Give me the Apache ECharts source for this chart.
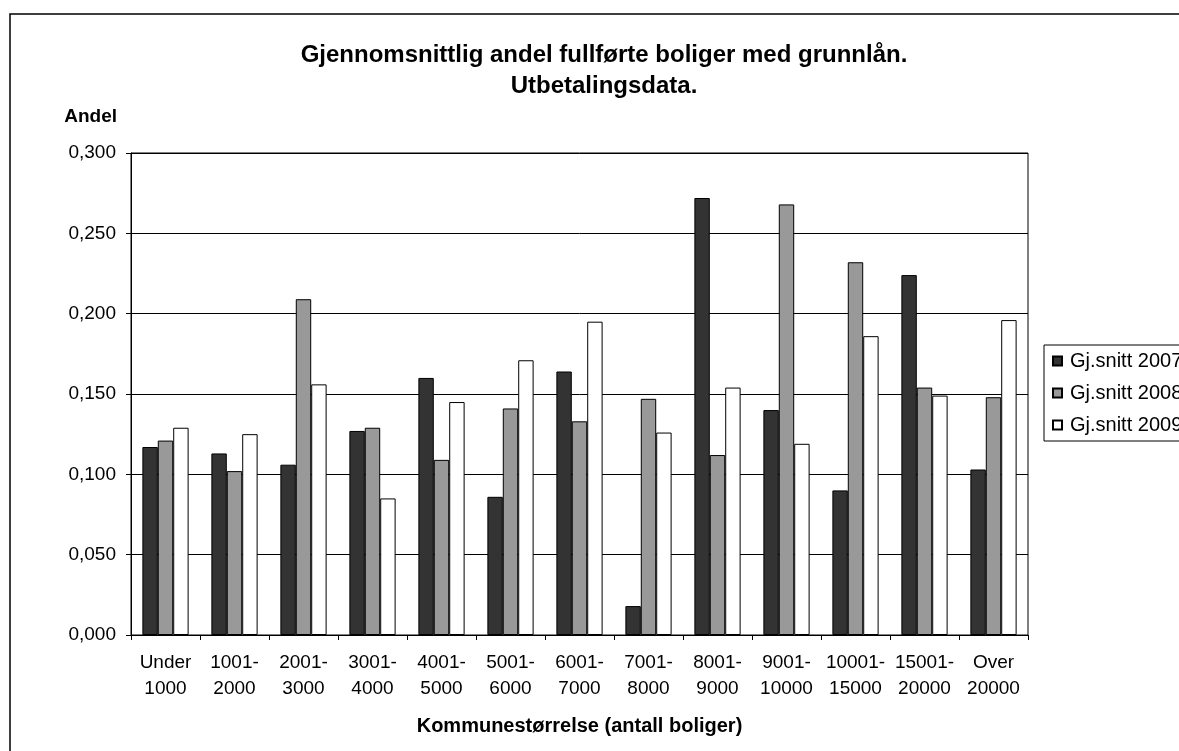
<!DOCTYPE html>
<html>
<head>
<meta charset="utf-8">
<script src="https://cdn.jsdelivr.net/npm/echarts@6/dist/echarts.min.js"></script>
<style>
  html, body { margin: 0; padding: 0; background: #fff; }
  #chart { width: 1179px; height: 751px; }
</style>
</head>
<body>
<div id="chart"></div>
<script>
var categories = ['Under\n1000', '1001-\n2000', '2001-\n3000', '3001-\n4000', '4001-\n5000', '5001-\n6000',
    '6001-\n7000', '7001-\n8000', '8001-\n9000', '9001-\n10000', '10001-\n15000', '15001-\n20000', 'Over\n20000'];
var snitt2007 = [0.117, 0.113, 0.106, 0.127, 0.160, 0.086, 0.164, 0.018, 0.272, 0.140, 0.090, 0.224, 0.103];
var snitt2008 = [0.121, 0.102, 0.209, 0.129, 0.109, 0.141, 0.133, 0.147, 0.112, 0.268, 0.232, 0.154, 0.148];
var snitt2009 = [0.129, 0.125, 0.156, 0.085, 0.145, 0.171, 0.195, 0.126, 0.154, 0.119, 0.186, 0.149, 0.196];
var yTickLabels = ['0,000', '0,050', '0,100', '0,150', '0,200', '0,250', '0,300'];

var font = 'Liberation Sans, Arial, sans-serif';
var myChart = echarts.init(document.getElementById('chart'));

function barSeries(name, data, color) {
    return {
        name: name,
        type: 'bar',
        data: data,
        barGap: '0%',
        barCategoryGap: '33%',
        itemStyle: { color: color, borderColor: '#000', borderWidth: 1 }
    };
}

var option = {
    animation: false,
    backgroundColor: '#fff',
    textStyle: { fontFamily: font },
    title: {
        text: 'Gjennomsnittlig andel fullførte boliger med grunnlån.\nUtbetalingsdata.',
        left: 599,
        top: 35,
        textAlign: 'center',
        textStyle: { fontFamily: font, fontSize: 24, fontWeight: 'bold', color: '#000', lineHeight: 31 }
    },
    legend: {
        orient: 'vertical',
        left: 1044,
        top: 345,
        padding: [6, 40, 6, 8],
        itemWidth: 9,
        itemHeight: 9,
        itemGap: 12,
        icon: 'rect',
        borderColor: '#000',
        borderWidth: 1,
        textStyle: { fontFamily: font, fontSize: 20, color: '#000', padding: [0, 0, 0, 3] },
        data: ['Gj.snitt 2007', 'Gj.snitt 2008', 'Gj.snitt 2009']
    },
    graphic: [{
        type: 'rect',
        shape: { x: 10, y: 14, width: 1400, height: 900 },
        style: { fill: null, stroke: '#000', lineWidth: 1.5 },
        silent: true
    }],
    grid: {
        left: 131,
        top: 153,
        width: 897,
        height: 482,
        show: true,
        borderColor: '#000',
        borderWidth: 1,
        backgroundColor: '#fff'
    },
    xAxis: {
        type: 'category',
        data: categories,
        name: 'Kommunestørrelse (antall boliger)',
        nameLocation: 'middle',
        nameGap: 81,
        nameTextStyle: { fontFamily: font, fontSize: 20, fontWeight: 'bold', color: '#000' },
        axisLine: { lineStyle: { color: '#000', width: 1 } },
        axisTick: { show: true, alignWithLabel: false, length: 5, lineStyle: { color: '#000' } },
        axisLabel: { color: '#000', fontSize: 19, lineHeight: 26, margin: 15, interval: 0, fontFamily: font }
    },
    yAxis: {
        type: 'value',
        min: 0,
        max: 0.3,
        interval: 0.05,
        name: 'Andel',
        nameLocation: 'end',
        nameGap: 27,
        nameTextStyle: { fontFamily: font, fontSize: 19, fontWeight: 'bold', color: '#000', align: 'right', padding: [0, 14, 0, 0] },
        axisLine: { show: true, lineStyle: { color: '#000', width: 1 } },
        axisTick: { show: true, length: 5, lineStyle: { color: '#000' } },
        splitLine: { show: true, lineStyle: { color: '#000', width: 1 } },
        axisLabel: {
            color: '#000',
            fontSize: 19,
            margin: 15,
            fontFamily: font,
            formatter: function (v) { return yTickLabels[Math.round(v / 0.05)]; }
        }
    },
    series: [
        barSeries('Gj.snitt 2007', snitt2007, '#333333'),
        barSeries('Gj.snitt 2008', snitt2008, '#999999'),
        barSeries('Gj.snitt 2009', snitt2009, '#ffffff')
    ]
};
myChart.setOption(option);
</script>
</body>
</html>
